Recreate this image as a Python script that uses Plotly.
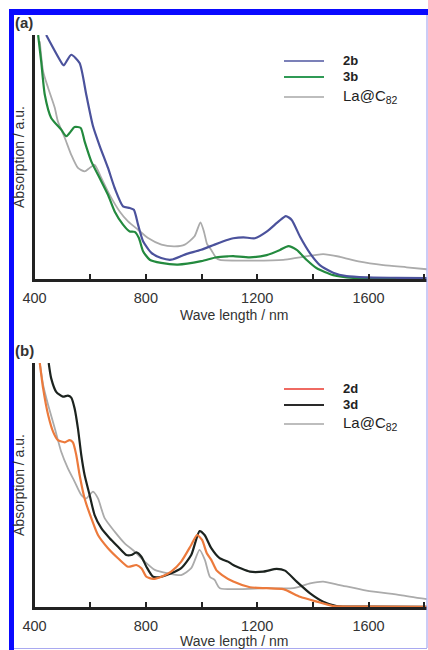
import plotly.graph_objects as go

# ---------------- Panel (a) data (wavelength nm, absorbance a.u.) ----------------
wl_2b = [442, 502, 506, 532, 562, 586, 610, 634, 664, 688, 718, 742, 757, 772, 790,
         820, 855, 891, 940, 999, 1047, 1095, 1114, 1150, 1192, 1234, 1276, 1303,
         1324, 1354, 1390, 1425, 1473, 1521, 1593, 1700, 1809]
abs_2b = [1.0, 0.878, 0.876, 0.919, 0.885, 0.755, 0.627, 0.546, 0.455, 0.373, 0.298,
          0.291, 0.284, 0.223, 0.155, 0.107, 0.086, 0.079, 0.100, 0.120, 0.141, 0.161,
          0.167, 0.171, 0.167, 0.194, 0.235, 0.258, 0.242, 0.173, 0.105, 0.057, 0.026,
          0.012, 0.007, 0.005, 0.004]

wl_3b = [413, 424, 437, 460, 496, 514, 526, 544, 566, 580, 604, 634, 664, 688, 718,
         742, 760, 775, 790, 814, 855, 915, 999, 1054, 1095, 1114, 1174, 1234, 1282,
         1312, 1342, 1378, 1414, 1473, 1545, 1700, 1809]
abs_3b = [1.0, 0.892, 0.755, 0.660, 0.612, 0.585, 0.598, 0.623, 0.619, 0.564, 0.482,
          0.414, 0.345, 0.277, 0.223, 0.195, 0.193, 0.168, 0.114, 0.079, 0.066, 0.059,
          0.073, 0.089, 0.093, 0.094, 0.089, 0.098, 0.119, 0.135, 0.119, 0.078, 0.044,
          0.016, 0.005, 0.004, 0.003]

wl_la_a = [419, 431, 449, 473, 484, 509, 532, 556, 580, 598, 616, 640, 670, 706, 736,
           772, 808, 856, 904, 940, 975, 996, 1009, 1020, 1035, 1053, 1066, 1174, 1294,
           1354, 1437, 1497, 1569, 1653, 1737, 1809]
abs_la_a = [0.974, 0.851, 0.783, 0.701, 0.646, 0.578, 0.509, 0.455, 0.441, 0.455,
            0.468, 0.414, 0.345, 0.277, 0.236, 0.202, 0.168, 0.141, 0.134, 0.141,
            0.175, 0.232, 0.193, 0.143, 0.119, 0.086, 0.078, 0.075, 0.078, 0.089,
            0.102, 0.091, 0.071, 0.057, 0.048, 0.040]

# ---------------- Panel (b) data ----------------
wl_2d = [419, 431, 449, 467, 484, 509, 526, 538, 550, 562, 580, 604, 628, 664, 700,
         736, 766, 784, 802, 826, 856, 891, 927, 963, 984, 1002, 1019, 1035, 1054,
         1074, 1114, 1174, 1234, 1294, 1354, 1414, 1473, 1600, 1809]
abs_2d = [1.0, 0.896, 0.787, 0.718, 0.684, 0.675, 0.684, 0.675, 0.623, 0.541, 0.445,
          0.364, 0.295, 0.241, 0.200, 0.165, 0.172, 0.159, 0.124, 0.115, 0.124, 0.145,
          0.186, 0.254, 0.295, 0.275, 0.220, 0.193, 0.150, 0.131, 0.104, 0.081, 0.077,
          0.073, 0.042, 0.022, 0.004, 0.002, 0.001]

wl_3d = [451, 460, 478, 502, 520, 532, 544, 556, 568, 580, 598, 616, 640, 670, 700,
         730, 748, 766, 784, 802, 826, 856, 891, 927, 963, 993, 1011, 1035, 1065, 1095,
         1114, 1174, 1222, 1270, 1300, 1342, 1390, 1437, 1485, 1600, 1809]
abs_3d = [1.0, 0.937, 0.882, 0.862, 0.866, 0.858, 0.814, 0.732, 0.623, 0.541, 0.459,
          0.377, 0.323, 0.282, 0.247, 0.213, 0.213, 0.224, 0.206, 0.165, 0.124, 0.124,
          0.138, 0.159, 0.213, 0.311, 0.295, 0.241, 0.200, 0.186, 0.172, 0.145, 0.145,
          0.156, 0.149, 0.104, 0.056, 0.022, 0.004, 0.002, 0.001]

wl_la_b = [419, 431, 449, 473, 496, 520, 544, 568, 586, 610, 628, 652, 688, 724, 760,
           796, 832, 880, 927, 963, 993, 1012, 1030, 1047, 1066, 1234, 1330, 1390,
           1437, 1497, 1593, 1714, 1809]
abs_la_b = [1.0, 0.91, 0.828, 0.732, 0.636, 0.568, 0.514, 0.459, 0.445, 0.473, 0.445,
            0.364, 0.309, 0.261, 0.227, 0.186, 0.152, 0.138, 0.131, 0.159, 0.234,
            0.193, 0.124, 0.111, 0.077, 0.077, 0.077, 0.097, 0.104, 0.090, 0.067,
            0.049, 0.032]

x_tickvals = [400, 800, 1200, 1600]
x_ticktext = ["400", "800", "1200", "1600"]
x_range = [400, 1810]
x_title = "Wave length / nm"
y_title = "Absorption / a.u."

W, H = 428, 650
FONT = "Liberation Sans, Arial, Helvetica, sans-serif"


def px_x(p):
    return p / W


def px_y(p):
    return 1 - p / H


fig = go.Figure()

# (legend label, x, y, line colour, line width, legend line colour, legend row y px)
series_a = [
    ("<b>2b</b>", wl_2b, abs_2b, "#4b529c", 2.2, "#7b80b8", 61),
    ("<b>3b</b>", wl_3b, abs_3b, "#238a3e", 2.2, "#2f9a55", 77),
    ("La@C<sub>82</sub>", wl_la_a, abs_la_a, "#ababab", 1.8, "#bdbdbd", 97),
]
series_b = [
    ("<b>2d</b>", wl_2d, abs_2d, "#ec7a3c", 2.2, "#ef6a62", 389),
    ("<b>3d</b>", wl_3d, abs_3d, "#1c231f", 2.2, "#2a2a2a", 405),
    ("La@C<sub>82</sub>", wl_la_b, abs_la_b, "#ababab", 1.8, "#bdbdbd", 424),
]

shapes = []
annotations = []

# draw order: gray under coloured
for (series, xa, ya) in ((series_a, "x", "y"), (series_b, "x2", "y2")):
    for name, xs, ys, col, lw, lcol, ry in reversed(series):
        fig.add_trace(go.Scatter(x=xs, y=ys, mode="lines", name=name, showlegend=False,
                                 line=dict(color=col, width=lw, shape="spline", smoothing=0.6),
                                 xaxis=xa, yaxis=ya))
    # legend entries (sample line + label)
    for name, xs, ys, col, lw, lcol, ry in series:
        shapes.append(dict(type="line", xref="paper", yref="paper",
                           x0=px_x(284), x1=px_x(324), y0=px_y(ry), y1=px_y(ry),
                           line=dict(color=lcol, width=2)))
        annotations.append(dict(text=name, x=px_x(341), y=px_y(ry - 0.5),
                                xref="paper", yref="paper", xanchor="left", yanchor="middle",
                                showarrow=False,
                                font=dict(family=FONT, size=15 if "La" in name else 13,
                                          color="#222")))

# x-axis titles placed under each panel
for ty in (315, 641):
    annotations.append(dict(text=x_title, x=px_x(234), y=px_y(ty), xref="paper", yref="paper",
                            xanchor="center", yanchor="middle", showarrow=False,
                            font=dict(family=FONT, size=14, color="#333")))

xdom = [px_x(34.5), px_x(427)]
axis_common_x = dict(
    range=x_range, tickmode="array", tickvals=x_tickvals, ticktext=x_ticktext,
    ticks="inside", ticklen=5, tickwidth=1.5, tickcolor="#222",
    minor=dict(tickmode="linear", tick0=400, dtick=200, ticks="inside", ticklen=5,
               tickwidth=1.5, tickcolor="#222"),
    showline=True, linewidth=2.5, linecolor="#222", showgrid=False, zeroline=False,
    tickfont=dict(family=FONT, size=14.5, color="#333"), ticklabelstandoff=4,
    automargin=False, fixedrange=True,
)
axis_common_y = dict(
    range=[0, 1.0], showticklabels=False, ticks="", showline=True, linewidth=2.5,
    linecolor="#222", showgrid=False, zeroline=False,
    title=dict(text=y_title, font=dict(family=FONT, size=14, color="#333"), standoff=4),
    automargin=False, fixedrange=True,
)

annotations += [
    dict(text="<b>(a)</b>", x=px_x(13), y=px_y(22), xref="paper", yref="paper",
         xanchor="left", yanchor="middle", showarrow=False,
         font=dict(family=FONT, size=15, color="#333")),
    dict(text="<b>(b)</b>", x=px_x(13), y=px_y(350), xref="paper", yref="paper",
         xanchor="left", yanchor="middle", showarrow=False,
         font=dict(family=FONT, size=15, color="#333")),
]

shapes += [
    # blue frame around the figure
    dict(type="rect", xref="paper", yref="paper", x0=px_x(9), x1=px_x(14),
         y0=0, y1=px_y(9), fillcolor="#0a0aff", line=dict(width=0), layer="above"),
    dict(type="rect", xref="paper", yref="paper", x0=px_x(9), x1=1,
         y0=px_y(15), y1=px_y(9), fillcolor="#0a0aff", line=dict(width=0), layer="above"),
    dict(type="line", xref="paper", yref="paper", x0=px_x(427), x1=px_x(427),
         y0=px_y(648), y1=px_y(15), line=dict(color="#a9a9f0", width=1.2), layer="above"),
    dict(type="line", xref="paper", yref="paper", x0=px_x(14), x1=px_x(427),
         y0=px_y(648.5), y1=px_y(648.5), line=dict(color="#a9a9f0", width=1.2), layer="above"),
]

fig.update_layout(
    width=W, height=H, margin=dict(l=0, r=0, t=0, b=0),
    paper_bgcolor="white", plot_bgcolor="white",
    xaxis=dict(domain=xdom, anchor="y", **axis_common_x),
    yaxis=dict(domain=[px_y(279), px_y(35)], anchor="x", **axis_common_y),
    xaxis2=dict(domain=xdom, anchor="y2", **axis_common_x),
    yaxis2=dict(domain=[px_y(607), px_y(363)], anchor="x2", **axis_common_y),
    showlegend=False,
    annotations=annotations,
    shapes=shapes,
)

fig.write_html(
    "out.html",
    config={"displayModeBar": False},
    post_script="document.body.style.margin='0';document.body.style.padding='0';"
                "document.body.style.overflow='hidden';",
)
